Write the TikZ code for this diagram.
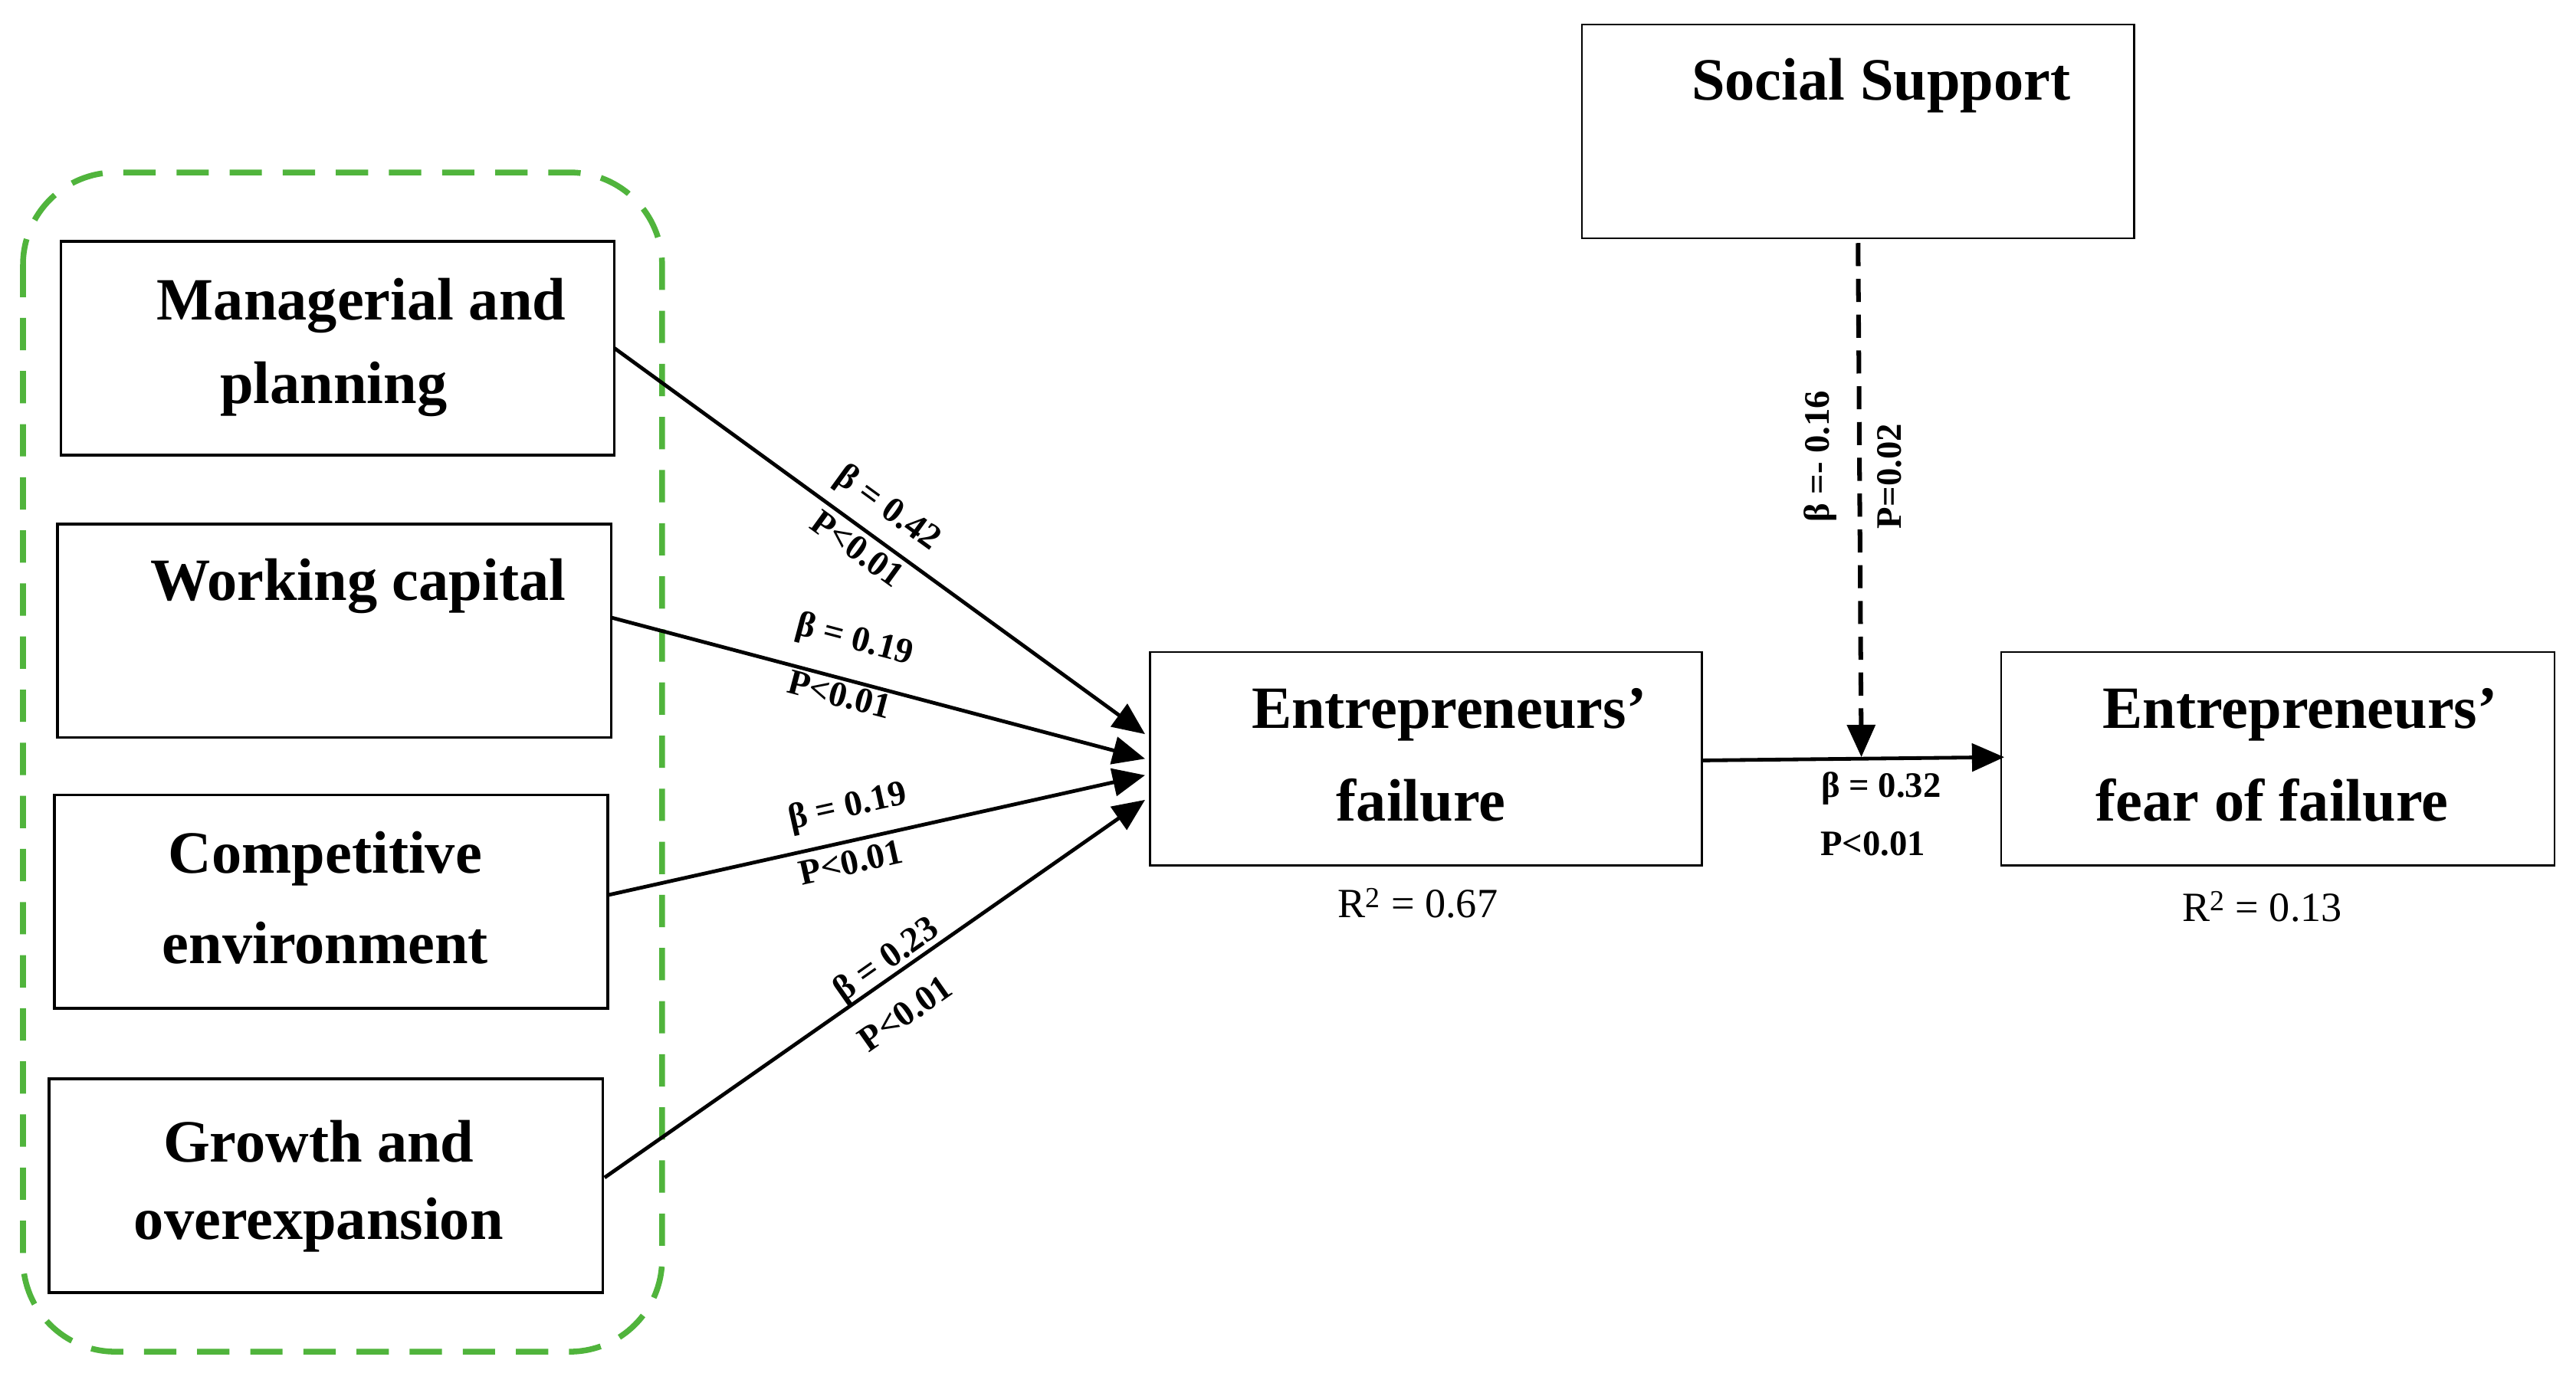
\documentclass[tikz,border=0pt]{standalone}
\usepackage{fontspec}
\setmainfont{Liberation Serif}
\usetikzlibrary{arrows.meta}
\begin{document}
\begin{tikzpicture}[x=0.05cm,y=-0.05cm,
  box/.style={draw,line width=2.4pt},
  btxt/.style={font=\fontsize{52}{62}\selectfont\bfseries,align=center},
  lab/.style={font=\fontsize{31}{34}\selectfont\bfseries,inner sep=0pt},
  rtxt/.style={font=\fontsize{36}{40}\selectfont,inner sep=0pt},
  arr/.style={line width=3.2pt,-{Triangle[length=28pt,width=24pt]}}]
\useasboundingbox (0,0) rectangle (1568,842);
\draw[color={rgb,255:red,80;green,180;blue,60},line width=5pt,dash pattern=on 28pt off 18pt,rounded corners=80pt] (14,105) rectangle (403,823);
\draw[box] (37,147) rectangle (374,277);
\node[btxt] at (220,186) {Managerial and};
\node[btxt] at (203,237) {planning};
\draw[box] (35,319) rectangle (372,449);
\node[btxt] at (218,357) {Working capital};
\draw[box] (33,484) rectangle (370,614);
\node[btxt] at (198,523) {Competitive};
\node[btxt] at (198,574) {environment};
\draw[box] (30,657) rectangle (367,787);
\node[btxt] at (194,695) {Growth and};
\node[btxt] at (194,746) {overexpansion};
\draw[line width=1.6pt] (700,397) rectangle (1036,527);
\node[btxt] at (882,435) {Entrepreneurs’};
\node[btxt] at (865,487) {failure};
\draw[line width=1.6pt] (1218,397) rectangle (1555,527);
\node[btxt] at (1400,435) {Entrepreneurs’};
\node[btxt] at (1383,487) {fear of failure};
\draw[line width=1.6pt] (963,15) rectangle (1299,145);
\node[btxt] at (1145,52) {Social Support};
\coordinate (m1) at (374,212); \coordinate (w1) at (372,376);
\coordinate (c1) at (370,545); \coordinate (g1) at (368,717);
\coordinate (e1) at (697,447); \coordinate (e2) at (697,462);
\coordinate (e3) at (697,472); \coordinate (e4) at (697,487);
\draw[arr] (m1) -- (e1);
\draw[arr] (w1) -- (e2);
\draw[arr] (c1) -- (e3);
\draw[arr] (g1) -- (e4);
\coordinate (f1) at (1036,463); \coordinate (f2) at (1220,461);
\draw[arr] (f1) -- (f2);
\coordinate (s1) at (1131,148); \coordinate (s2) at (1133,461);
\draw[arr,line width=4pt,dash pattern=on 20pt off 11pt] (s1) -- (s2);
\node[lab,rotate=-36] at (540,310) {β = 0.42};
\node[lab,rotate=-36] at (522,334) {P<0.01};
\node[lab,rotate=-14.8] at (520,390) {β = 0.19};
\node[lab,rotate=-14.8] at (511,423) {P<0.01};
\node[lab,rotate=12.6] at (516,492) {β = 0.19};
\node[lab,rotate=12.6] at (518,525) {P<0.01};
\node[lab,rotate=35] at (540,585) {β = 0.23};
\node[lab,rotate=35] at (551,617) {P<0.01};
\node[lab,rotate=90] at (1108,278) {β =- 0.16};
\node[lab,rotate=90] at (1150,290) {P=0.02};
\node[lab] at (1145,480) {β = 0.32};
\node[lab] at (1140,514) {P<0.01};
\node[rtxt] at (863,550) {R\textsuperscript{2} = 0.67};
\node[rtxt] at (1377,552) {R\textsuperscript{2} = 0.13};
\end{tikzpicture}
\end{document}
